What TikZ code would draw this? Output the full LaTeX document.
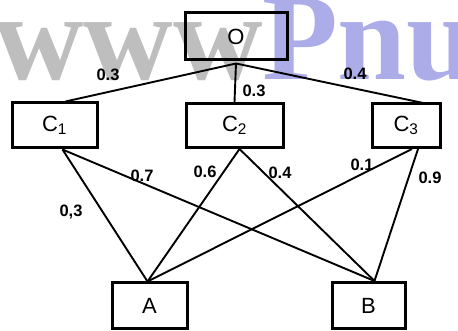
\documentclass[tikz,border=0pt]{standalone}
\usepackage{fontspec}
\setmainfont{Liberation Sans}
\newfontfamily\wmfont{Liberation Serif}
\usetikzlibrary{calc}
\definecolor{wmgray}{RGB}{190,190,190}
\definecolor{wmblue}{RGB}{172,172,232}
\begin{document}
\begin{tikzpicture}[x=1pt,y=-1pt,
  box/.style={draw=black,line width=3pt,rectangle,inner sep=0pt,font=\fontsize{22}{22}\selectfont},
  edge/.style={draw=black,line width=1.9pt},
  wlab/.style={inner sep=0pt,font=\fontsize{16.5}{16.5}\selectfont\bfseries},
  wm/.style={inner sep=0pt,anchor=base west,font=\wmfont\bfseries\fontsize{124}{124}\selectfont}]
\useasboundingbox (0,0) rectangle (458,331);
% watermark
\node[wm,text=wmgray] (wm1) at (-6,80) {www};
\node[wm,text=wmblue] (wm2) at (262,80) {Pnu};
% boxes
\node[box,minimum width=102pt,minimum height=47pt] (O) at (236,36.5) {O};
\node[box,minimum width=85pt,minimum height=45pt] (C1) at (54.5,125.5) {C\textsubscript{1}};
\node[box,minimum width=97pt,minimum height=44pt] (C2) at (234.5,125.5) {C\textsubscript{2}};
\node[box,minimum width=68pt,minimum height=44pt] (C3) at (406,125.5) {C\textsubscript{3}};
\node[box,minimum width=75pt,minimum height=45pt] (A) at (149.5,305.5) {A};
\node[box,minimum width=73pt,minimum height=46pt] (B) at (368.5,305.5) {B};
% anchor points
\coordinate (Ob) at ($(O.south)+(0,2)$);
\coordinate (C1t) at ($(C1.north)+(11,0)$);
\coordinate (C3t) at ($(C3.north)+(22,2)$);
\coordinate (C1b) at ($(C1.south)+(8,0)$);
\coordinate (C2b) at ($(C2.south)+(5,0)$);
\coordinate (C3ba) at ($(C3.south)+(6,0)$);
\coordinate (C3bb) at ($(C3.south)+(12,0)$);
\coordinate (At) at ($(A.north)+(-2,0)$);
\coordinate (Bt) at ($(B.north)+(6,0)$);
% edges
\draw[edge] (Ob) -- (C1t);
\draw[edge] (Ob) -- (C2.north);
\draw[edge] (Ob) -- (C3t);
\draw[edge] (C1b) -- (At);
\draw[edge] (C1b) -- (Bt);
\draw[edge] (C2b) -- (At);
\draw[edge] (C2b) -- (Bt);
\draw[edge] (C3ba) -- (At);
\draw[edge] (C3bb) -- (Bt);
% weights
\node[wlab] (w1) at (108,75) {0.3};
\node[wlab] (w2) at (254,91) {0.3};
\node[wlab] (w3) at (355,74) {0.4};
\node[wlab] (w4) at (142,176) {0.7};
\node[wlab] (w5) at (205,172) {0.6};
\node[wlab] (w6) at (280,173) {0.4};
\node[wlab] (w7) at (362,165) {0.1};
\node[wlab] (w8) at (430,178) {0.9};
\node[wlab] (w9) at (71,212) {0,3};
\end{tikzpicture}
\end{document}
